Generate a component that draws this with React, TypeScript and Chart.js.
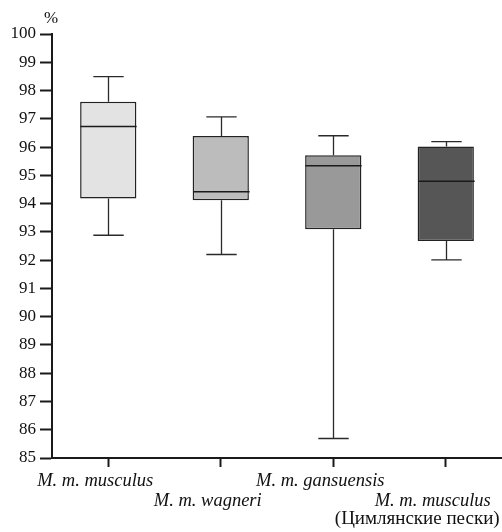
import React, { useEffect, useRef } from "react";
import { Chart, registerables } from "chart.js";

Chart.register(...registerables);

const categories: (string | string[])[] = [
  ["M. m. musculus"],
  ["", "M. m. wagneri"],
  ["M. m. gansuensis"],
  ["", "M. m. musculus"],
];
const subLabel = "(Цимлянские пески)";
const whiskerLow = [92.88, 92.2, 85.69, 92.01];
const q1 = [94.18, 94.12, 93.09, 92.68];
const median = [96.73, 94.42, 95.34, 94.79];
const q3 = [97.6, 96.39, 95.71, 96.02];
const whiskerHigh = [98.49, 97.07, 96.4, 96.19];
const boxColors = ["#e3e3e3", "#bcbcbc", "#999999", "#565656"];
const yTicks = { min: 85, max: 100, step: 1 };
const unitLabel = "%";

const FONT = "'Liberation Serif', 'Times New Roman', serif";

const boxExtras = {
  id: "boxExtras",
  afterDatasetsDraw(chart: any) {
    const xs = chart.scales.x;
    const ys = chart.scales.y;
    const ctx = chart.ctx as CanvasRenderingContext2D;
    const band = xs.getPixelForValue(1) - xs.getPixelForValue(0);
    const cap = band * 0.135;
    const half = band * 0.25;
    ctx.save();
    for (let i = 0; i < q1.length; i++) {
      const cx = Math.round(xs.getPixelForValue(i)) + 0.5;
      ctx.strokeStyle = "#2a2a2a";
      ctx.lineWidth = 1.3;
      ctx.beginPath();
      ctx.moveTo(cx, ys.getPixelForValue(whiskerHigh[i]));
      ctx.lineTo(cx, ys.getPixelForValue(q3[i]));
      ctx.moveTo(cx, ys.getPixelForValue(q1[i]));
      ctx.lineTo(cx, ys.getPixelForValue(whiskerLow[i]));
      ctx.moveTo(cx - cap, ys.getPixelForValue(whiskerHigh[i]));
      ctx.lineTo(cx + cap, ys.getPixelForValue(whiskerHigh[i]));
      ctx.moveTo(cx - cap, ys.getPixelForValue(whiskerLow[i]));
      ctx.lineTo(cx + cap, ys.getPixelForValue(whiskerLow[i]));
      ctx.stroke();
      ctx.strokeStyle = "#1a1a1a";
      ctx.lineWidth = 1.5;
      ctx.beginPath();
      ctx.moveTo(cx - half, ys.getPixelForValue(median[i]));
      ctx.lineTo(cx + half, ys.getPixelForValue(median[i]));
      ctx.stroke();
    }
    ctx.restore();
  },
  afterDraw(chart: any) {
    const xs = chart.scales.x;
    const ys = chart.scales.y;
    const ctx = chart.ctx as CanvasRenderingContext2D;
    ctx.save();
    ctx.fillStyle = "#111";
    ctx.textAlign = "center";
    ctx.textBaseline = "alphabetic";
    ctx.font = `17px ${FONT}`;
    ctx.fillText(unitLabel, chart.chartArea.left - 1, ys.top - 11);
    ctx.font = `19px ${FONT}`;
    ctx.fillText(subLabel, xs.getPixelForValue(3) - 28.5, xs.top + 66);
    ctx.restore();
  },
};

export default function App() {
  const ref = useRef<HTMLCanvasElement | null>(null);
  useEffect(() => {
    if (!ref.current) return;
    const chart = new Chart(ref.current, {
      type: "bar",
      data: {
        labels: categories as any,
        datasets: [
          {
            data: q1.map((v, i) => [v, q3[i]]) as any,
            backgroundColor: boxColors,
            borderColor: "#222",
            borderWidth: 1.5,
            borderSkipped: false,
            barPercentage: 0.5,
            categoryPercentage: 1,
          },
        ],
      },
      options: {
        responsive: false,
        animation: false,
        layout: { padding: { top: 34, left: 0, right: 0, bottom: 0 } },
        plugins: { legend: { display: false }, tooltip: { enabled: false } },
        scales: {
          x: {
            offset: true,
            grid: {
              offset: false,
              drawOnChartArea: false,
              drawTicks: true,
              tickLength: 9,
              tickWidth: 2,
              tickColor: "#1a1a1a",
            },
            border: { display: true, color: "#1a1a1a", width: 2 },
            ticks: {
              color: "#111",
              font: { family: FONT, size: 18.5, style: "italic", lineHeight: 1.1 },
              padding: 4,
              labelOffset: -13,
              maxRotation: 0,
              autoSkip: false,
            },
            afterFit: (s: any) => {
              s.height = 74;
              s.paddingLeft = 0;
              s.paddingRight = 0;
            },
          },
          y: {
            min: yTicks.min,
            max: yTicks.max,
            grid: {
              drawOnChartArea: false,
              drawTicks: true,
              tickLength: 12,
              tickWidth: 2,
              tickColor: "#1a1a1a",
            },
            border: { display: true, color: "#1a1a1a", width: 2 },
            ticks: {
              stepSize: yTicks.step,
              color: "#111",
              font: { family: FONT, size: 17 },
              padding: 4,
            },
            afterFit: (s: any) => {
              s.width = 52;
              s.paddingTop = 0;
              s.paddingBottom = 0;
            },
          },
        },
      },
      plugins: [boxExtras],
    });
    return () => chart.destroy();
  }, []);
  return (
    <div style={{ position: "fixed", left: 0, top: 0, width: 502, height: 532, background: "#fff" }}>
      <canvas ref={ref} width={502} height={532} style={{ display: "block" }} />
    </div>
  );
}
